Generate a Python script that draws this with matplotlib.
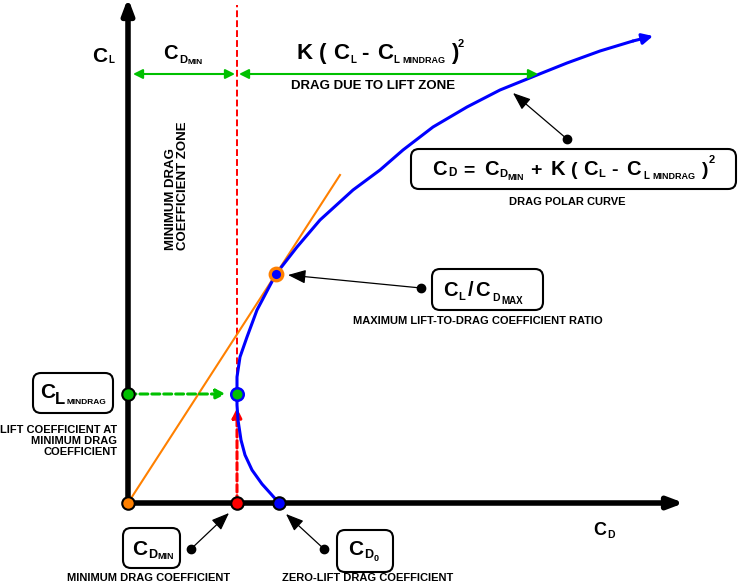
import matplotlib
matplotlib.use('Agg')
import matplotlib.pyplot as plt
import matplotlib.transforms as mtransforms
from matplotlib.patches import FancyBboxPatch

plt.rcParams['font.family'] = ['Liberation Sans', 'DejaVu Sans']

# drag polar (CD, CL)
curve_cd = [0.0302, 0.0286, 0.0268, 0.0248, 0.0234, 0.0226, 0.0220, 0.0218, 0.0218,
            0.0218, 0.0224, 0.0238, 0.0258, 0.0296, 0.0338, 0.0384, 0.0450, 0.0504,
            0.0550, 0.0610, 0.0678, 0.0744, 0.0828, 0.0878, 0.0944, 0.1010]
curve_cl = [0.000, 0.018, 0.038, 0.066, 0.096, 0.126, 0.166, 0.196, 0.218,
            0.252, 0.292, 0.332, 0.386, 0.458, 0.512, 0.566, 0.626, 0.666,
            0.706, 0.752, 0.792, 0.826, 0.860, 0.880, 0.904, 0.924]
curve_tip = (0.1050, 0.934)

cd_min = 0.0218
cd_0 = 0.0302
cl_mindrag = 0.218
ld_max = (0.0296, 0.458)
tangent_end = (0.0424, 0.656)
cd_axis_end = 0.1112
cl_axis_end = 1.010
zone_cl = 0.858
zone_cd_end = 0.082
red_top = 0.996

BLUE = '#0000ff'
ORANGE = '#ff8000'
GREEN = '#00c000'
RED = '#ff0000'

fig = plt.figure(figsize=(7.38, 5.84), dpi=100)
ax = fig.add_axes([0, 0, 1, 1])
ax.set_xlim(-128 / 5000, 610 / 5000)
ax.set_ylim(-81 / 500, 503 / 500)
ax.axis('off')
renderer = fig.canvas.get_renderer()

# pixel coords, y from top
px = mtransforms.Affine2D().scale(1 / 100, -1 / 100).translate(0, 5.84) + fig.dpi_scale_trans


def arrow(xy, xytext, color, lw, style='-|>', ms=15, ls='-', xc='data', tc='data', z=3):
    ax.annotate('', xy=xy, xytext=xytext, xycoords=xc, textcoords=tc,
                arrowprops=dict(arrowstyle=style, color=color, lw=lw, ls=ls,
                                mutation_scale=ms, shrinkA=0, shrinkB=0),
                zorder=z, annotation_clip=False)


# axes
head = '-|>,head_length=0.45,head_width=0.17'
arrow((cd_axis_end, 0), (0, 0), 'black', 4, style=head, ms=20)
arrow((0, cl_axis_end), (0, 0), 'black', 4, style=head, ms=20)

# red dashed CDmin line
ax.plot([cd_min, cd_min], [cl_mindrag, red_top], color=RED, lw=1.4, ls=(0, (3.5, 1.6)), zorder=2)
arrow((cd_min, cl_mindrag - 0.028), (cd_min, 0), RED, 2.2, ls=(0, (2.4, 1.2)), ms=14)
# green dashed CLmindrag arrow
arrow((cd_min - 0.0022, cl_mindrag), (0, cl_mindrag), GREEN, 2.2, ls=(0, (2.6, 1.3)), ms=14)

# tangent line
ax.plot([0, tangent_end[0]], [0, tangent_end[1]], color=ORANGE, lw=1.5, zorder=2)

# drag polar
ax.plot(curve_cd, curve_cl, color=BLUE, lw=2.2, zorder=3, solid_capstyle='round',
        solid_joinstyle='round')
arrow(curve_tip, (curve_cd[-1], curve_cl[-1]), BLUE, 2.2, ms=16)

# zone arrows
arrow((cd_min - 0.0004, zone_cl), (0.001, zone_cl), GREEN, 1.5, style='<|-|>', ms=14)
arrow((zone_cd_end, zone_cl), (cd_min + 0.0004, zone_cl), GREEN, 1.5, style='<|-|>', ms=14)

# points
ax.plot(0, 0, 'o', ms=9, mfc=ORANGE, mec='black', mew=1.5, zorder=5)
ax.plot(cd_min, 0, 'o', ms=9, mfc=RED, mec='black', mew=1.5, zorder=5)
ax.plot(cd_0, 0, 'o', ms=9, mfc=BLUE, mec='black', mew=1.5, zorder=5)
ax.plot(0, cl_mindrag, 'o', ms=9, mfc=GREEN, mec='black', mew=1.5, zorder=5)
ax.plot(cd_min, cl_mindrag, 'o', ms=9, mfc=GREEN, mec=BLUE, mew=1.8, zorder=5)
ax.plot(*ld_max, 'o', ms=9, mfc=BLUE, mec=ORANGE, mew=2.4, zorder=5)


def t(x, y, s, size, **kw):
    ax.text(x, y, s, transform=px, fontsize=size, fontweight='bold', **kw)


def rich(x, y, parts):
    # parts: (text, size, rise) or a number = extra gap in px
    for p in parts:
        if isinstance(p, (int, float)):
            x += p
            continue
        s, size, rise = p
        txt = ax.text(x, y - rise, s, transform=px, fontsize=size, fontweight='bold',
                      ha='left', va='baseline', zorder=6)
        x += txt.get_window_extent(renderer).width


def box(x0, y0, x1, y1):
    ax.add_patch(FancyBboxPatch((x0, y0), x1 - x0, y1 - y0, transform=px,
                                boxstyle='round,pad=0,rounding_size=8',
                                fc='white', ec='black', lw=1.5, zorder=4))


def callout(dot, tip):
    ax.plot(*dot, 'o', ms=6, color='black', transform=px, zorder=4)
    arrow(tip, dot, 'black', 0.9, style='-|>,head_length=0.9,head_width=0.35', ms=12,
          xc=px, tc=px)


# axis labels and zones
rich(92, 62, [('C', 15, 0), 1, ('L', 7, -1)])
rich(163, 59, [('C', 14.5, 0), 2, ('D', 8, -4), ('MIN', 6, -5)])
rich(297, 59, [('K', 16, 0), 6, ('(', 16, 0), 7, ('C', 16, 0), 1, ('L', 7, -4), 5,
               ('-', 16, 0), 8, ('C', 16, 0), 1, ('L', 7, -4), 3, ('MINDRAG', 6.5, -4), 5,
               (')', 16, 0), 0, ('2', 8, 12)])
t(373, 86, 'DRAG DUE TO LIFT ZONE', 9.5, ha='center', va='center')
t(177, 186, 'MINIMUM DRAG\nCOEFFICIENT ZONE', 9.5, ha='center', va='center', rotation=90,
  multialignment='left', linespacing=1.0)
rich(593, 535, [('C', 13, 0), 1, ('D', 7.5, -3)])

# drag polar formula
box(411, 149, 736, 189)
rich(432, 175, [('C', 14.5, 0), 2, ('D', 8.5, -1), 6, ('=', 14, 0), 10, ('C', 14.5, 0), 1,
                ('D', 8, -2), ('MIN', 6.5, -5), 6, ('+', 14, 0), 9, ('K', 14.5, 0), 6,
                ('(', 14, 0), 5, ('C', 14.5, 0), 1, ('L', 8, -2), 6, ('-', 14, 0), 9,
                ('C', 14.5, 0), 2, ('L', 7, -4), 4, ('MINDRAG', 6.5, -4), 6, (')', 14, 0),
                0, ('2', 8, 12)])
t(567, 202, 'DRAG POLAR CURVE', 8, ha='center', va='center')
callout((567, 139), (513, 93))

# max L/D
box(432, 269, 543, 310)
rich(443, 296, [('C', 14.5, 0), 1, ('L', 8, -4), 3, ('/', 14.5, 0), 1, ('C', 14.5, 0), 3,
                ('D', 7.5, -5), 2, ('MAX', 7, -8)])
t(478, 321, 'MAXIMUM LIFT-TO-DRAG COEFFICIENT RATIO', 8, ha='center', va='center')
callout((421, 288), (288, 275))

# CL at min drag
box(33, 373, 113, 413)
rich(40, 398, [('C', 15, 0), 0, ('L', 12, -6), 1, ('MINDRAG', 6, -6)])
t(117, 441, 'LIFT COEFFICIENT AT\nMINIMUM DRAG\nCOEFFICIENT', 8, ha='right', va='center',
  multialignment='right', linespacing=1.15)

# CD min
box(123, 528, 180, 568)
rich(132, 555, [('C', 15, 0), 1, ('D', 9, -3), ('MIN', 6.5, -4)])
t(149, 578, 'MINIMUM DRAG COEFFICIENT', 8, ha='center', va='center')
callout((191, 549), (229, 513))

# CD0
box(337, 530, 393, 572)
rich(348, 555, [('C', 15, 0), 1, ('D', 9, -3), ('0', 6.5, -6)])
t(368, 578, 'ZERO-LIFT DRAG COEFFICIENT', 8, ha='center', va='center')
callout((324, 549), (286, 514))

fig.savefig('out.png', dpi=100)
